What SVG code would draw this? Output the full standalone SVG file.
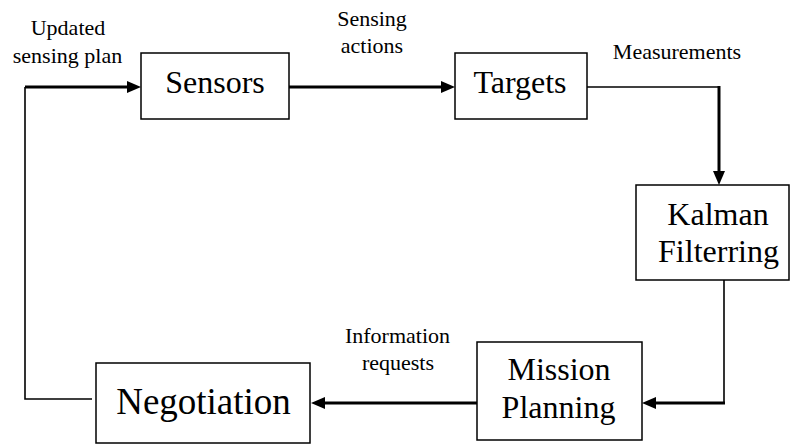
<svg xmlns="http://www.w3.org/2000/svg" width="790" height="445" viewBox="0 0 790 445">
  <style>
    .box { fill: #fff; stroke: #000; stroke-width: 1.5; }
    .node { font-family: 'Liberation Serif', 'Times New Roman', serif; font-size: 32px; fill: #000; text-anchor: middle; }
    .big { font-size: 37px; }
    .lbl { font-family: 'Liberation Serif', 'Times New Roman', serif; font-size: 22px; fill: #000; text-anchor: middle; }
    .thin { fill: none; stroke: #000; stroke-width: 1.6; }
    .thick { fill: none; stroke: #000; stroke-width: 3; }
  </style>
  <defs>
    <marker id="arr" markerUnits="userSpaceOnUse" markerWidth="14" markerHeight="12" refX="0" refY="6" orient="auto" overflow="visible">
      <path d="M0,0 L14,6 L0,12 Z" fill="#000"/>
    </marker>
  </defs>
  <rect width="790" height="445" fill="#fff"/>

  <g id="connectors">
    <polyline class="thin" points="92,399 25,399 25,87"/>
    <line class="thick" x1="25" y1="87" x2="127" y2="87" marker-end="url(#arr)"/>
    <line class="thick" x1="289" y1="87" x2="441" y2="87" marker-end="url(#arr)"/>
    <polyline class="thin" points="587,87 719,87"/>
    <line class="thick" x1="719" y1="86" x2="719" y2="171" marker-end="url(#arr)"/>
    <polyline class="thin" points="724,280 724,403"/>
    <line class="thick" x1="725" y1="403" x2="656" y2="403" marker-end="url(#arr)"/>
    <line class="thick" x1="477" y1="403" x2="325" y2="403" marker-end="url(#arr)"/>
  </g>

  <g id="labels">
    <text class="lbl" x="68" y="35">Updated</text>
    <text class="lbl" x="67.5" y="63">sensing plan</text>
    <text class="lbl" x="372" y="26">Sensing</text>
    <text class="lbl" x="372" y="53">actions</text>
    <text class="lbl" x="677" y="59">Measurements</text>
    <text class="lbl" x="397.5" y="343">Information</text>
    <text class="lbl" x="398" y="370">requests</text>
  </g>

  <g id="sensors">
    <rect class="box" x="141" y="53" width="148" height="66"/>
    <text class="node" x="215" y="93">Sensors</text>
  </g>
  <g id="targets">
    <rect class="box" x="455" y="53" width="132" height="66"/>
    <text class="node" x="520" y="93">Targets</text>
  </g>
  <g id="kalman">
    <rect class="box" x="636" y="185" width="153" height="95"/>
    <text class="node" x="718" y="225">Kalman</text>
    <text class="node" x="718.5" y="262">Filterring</text>
  </g>
  <g id="mission">
    <rect class="box" x="477" y="342" width="165" height="98"/>
    <text class="node" x="559" y="380">Mission</text>
    <text class="node" x="558.5" y="418">Planning</text>
  </g>
  <g id="negotiation">
    <rect class="box" x="96" y="363" width="214" height="80"/>
    <text class="node big" x="203.5" y="414">Negotiation</text>
  </g>
</svg>
